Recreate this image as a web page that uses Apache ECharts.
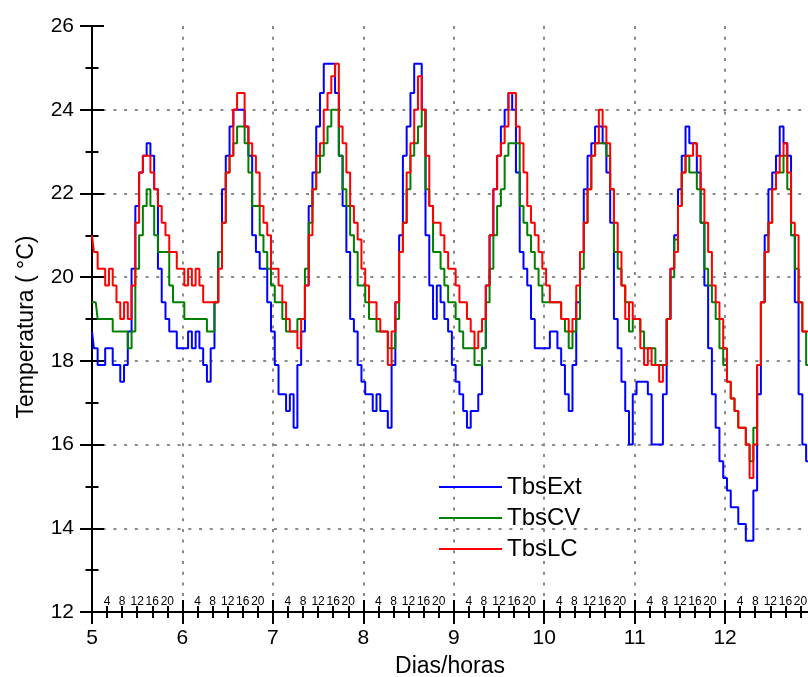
<!DOCTYPE html>
<html><head><meta charset="utf-8">
<script src="https://cdn.jsdelivr.net/npm/echarts@6/dist/echarts.min.js"></script>
<style>html,body{margin:0;padding:0;background:#fff;overflow:hidden}#c{width:808px;height:677px}</style>
</head><body><div id="c"></div>
<script>
// Hourly readings starting at day 5, 00h
const startDay = 5;
const dayTicks = [5, 6, 7, 8, 9, 10, 11, 12];
const hourTicks = [4, 8, 12, 16, 20];
const yTicks = [12, 14, 16, 18, 20, 22, 24, 26];
const seriesNames = ['TbsExt', 'TbsCV', 'TbsLC'];

const tbsExt = [
  18.7,18.3,17.9,17.9,18.3,18.3,17.9,17.9,17.5,17.9,18.7,20.2,21.7,22.5,22.9,23.2,22.9,22.1,20.2,19.4,19.0,18.7,18.7,18.3,
  18.3,18.3,18.7,18.3,18.7,18.3,17.9,17.5,18.3,19.4,20.6,22.1,22.9,23.6,24.0,24.0,24.0,23.6,22.9,21.0,20.6,20.2,20.2,19.4,
  18.7,17.9,17.2,17.2,16.8,17.2,16.4,17.9,18.7,19.8,21.7,22.5,23.6,24.4,25.1,25.1,25.1,24.4,22.9,21.7,20.6,19.0,18.7,17.9,
  17.5,17.2,17.2,16.8,17.2,16.8,16.8,16.4,17.9,19.4,21.0,22.9,23.6,24.4,25.1,25.1,24.0,21.0,19.8,19.0,19.8,19.4,19.0,18.7,
  17.9,17.5,17.2,16.8,16.4,16.8,16.8,17.2,18.3,19.8,21.0,22.1,22.9,23.6,24.0,24.4,24.0,22.5,20.6,20.2,19.8,19.0,18.3,18.3,
  18.3,18.3,18.7,18.7,18.3,17.9,17.2,16.8,17.9,19.4,20.6,22.1,22.9,23.2,23.6,23.6,23.2,22.5,21.3,19.0,18.3,17.5,16.8,16.0,
  17.2,17.5,17.5,17.5,17.2,16.0,16.0,16.0,17.2,19.0,20.2,21.0,22.1,22.9,23.6,23.2,23.2,22.5,21.3,19.8,18.3,17.2,16.4,15.6,
  15.2,14.9,14.5,14.5,14.1,14.1,13.7,13.7,14.9,17.2,19.4,21.0,22.1,22.5,22.9,23.6,23.2,22.9,21.0,19.4,17.2,16.0,15.6
];
const tbsCV = [
  19.4,19.4,19.0,19.0,19.0,19.0,18.7,18.7,18.7,18.7,18.3,18.7,20.2,21.0,21.7,22.1,21.7,21.0,20.6,20.6,20.6,19.8,19.4,19.4,
  19.4,19.0,19.0,19.0,19.0,19.0,19.0,18.7,18.7,19.4,20.6,21.3,22.5,22.9,23.2,23.6,23.6,23.2,22.5,21.7,21.7,21.0,20.6,20.2,
  19.8,19.4,19.4,19.0,18.7,18.7,18.7,19.0,19.0,20.2,21.3,22.1,22.5,22.9,23.2,23.6,24.0,24.0,22.9,22.1,21.7,21.0,20.6,19.8,
  19.8,19.4,19.0,19.0,18.7,18.7,18.7,18.3,18.3,19.0,20.6,21.3,22.1,22.9,23.2,23.6,24.0,22.1,21.7,20.6,20.6,20.2,19.8,19.4,
  19.4,19.0,18.7,18.3,18.3,18.3,17.9,17.9,18.3,19.4,20.2,21.0,21.7,22.1,22.9,23.2,23.2,23.2,21.7,21.3,21.0,20.6,20.2,19.8,
  19.4,19.4,19.4,19.4,19.4,19.0,18.7,18.3,18.7,19.0,20.2,21.3,22.1,22.9,23.2,23.2,23.2,22.9,22.1,20.6,20.2,19.8,19.4,18.7,
  19.0,19.0,18.7,18.3,18.3,18.3,17.9,17.9,17.9,19.0,20.0,20.9,21.7,22.5,22.9,22.5,22.5,22.1,21.3,20.2,19.8,19.4,19.0,18.3,
  17.9,17.5,17.1,16.8,16.4,16.4,16.0,15.6,16.4,17.9,19.4,20.6,21.3,22.1,22.5,22.5,22.9,22.1,21.0,20.2,19.4,18.7,17.9
];
const tbsLC = [
  21.0,20.6,20.2,20.2,19.8,20.2,19.8,19.4,19.0,19.4,19.0,19.8,21.3,22.5,22.9,22.9,22.5,22.1,21.7,21.3,21.0,20.6,20.6,20.2,
  20.2,19.8,20.2,19.8,20.2,19.8,19.4,19.4,19.4,19.4,20.2,21.3,22.5,22.9,24.0,24.4,24.4,23.6,23.2,22.9,22.5,21.7,21.3,21.0,
  20.2,20.2,19.8,19.4,19.0,18.7,18.7,18.3,19.0,19.8,21.0,22.1,22.9,23.2,24.0,24.4,24.8,25.1,23.6,23.2,22.5,21.7,21.3,20.9,
  20.2,19.8,19.4,19.4,19.0,18.7,18.7,17.9,18.7,19.4,20.6,21.3,22.5,23.2,24.0,24.8,24.0,22.9,21.7,21.3,21.3,21.0,20.6,20.2,
  20.2,19.8,19.4,19.4,19.0,18.7,18.3,18.7,19.0,19.8,21.0,22.1,22.9,23.2,23.6,24.4,24.4,23.6,23.2,22.5,21.7,21.3,21.0,20.6,
  20.2,19.8,19.4,19.4,19.4,19.0,19.0,18.7,19.0,19.8,20.6,21.3,22.1,22.9,23.2,24.0,23.6,23.2,22.1,21.3,20.6,19.8,19.0,19.4,
  19.0,19.0,18.3,17.9,18.3,17.9,17.9,17.5,17.9,19.0,20.2,20.6,21.7,22.5,22.9,22.9,23.2,22.9,22.1,21.3,20.6,19.8,19.4,19.0,
  18.3,17.5,17.1,16.8,16.4,16.4,16.0,15.2,16.0,17.9,19.4,20.6,21.3,22.1,22.5,22.9,23.2,22.5,21.3,21.0,19.4,18.7,18.7
];

const FONT = '"Liberation Sans", Arial, Helvetica, sans-serif';
const chart = echarts.init(document.getElementById('c'), null, {renderer: 'canvas'});
const toPts = arr => arr.map((v, i) => [i, v]);
const hourMax = (dayTicks.length) * 24;
const grid = {left: 92, right: -7.54, top: 26, bottom: 65, outerBoundsMode: 'none', containLabel: false};
const dotted = {color: '#8a8a8a', width: 2, type: [3, 7.7]};

const baseX = {
  type: 'value', gridIndex: 0, position: 'bottom', min: 0, max: hourMax, interval: 24,
  axisLine: {show: true, onZero: false, lineStyle: {color: '#000', width: 2}},
  splitLine: {show: false}, axisLabel: {show: false}
};
const baseY = {
  type: 'value', gridIndex: 0, position: 'left', min: yTicks[0], max: yTicks[yTicks.length - 1], interval: 2,
  axisLine: {show: true, onZero: false, lineStyle: {color: '#000', width: 2}},
  splitLine: {show: false}, axisLabel: {show: false}
};

chart.setOption({
  animation: false,
  backgroundColor: '#fff',
  grid: grid,
  xAxis: [
    Object.assign({}, baseX, {
      axisTick: {show: true, inside: false, length: 12, lineStyle: {color: '#000', width: 2}},
      minorTick: {show: true, splitNumber: 6, length: 6, lineStyle: {color: '#000', width: 2}},
      axisLabel: {
        show: true, showMaxLabel: false, margin: 16, fontSize: 21, color: '#000', fontFamily: FONT,
        formatter: v => (v % 24 === 0 && dayTicks.includes(startDay + v / 24)) ? String(startDay + v / 24) : ''
      },
      splitLine: {show: true, showMinLine: false, showMaxLine: false, lineStyle: dotted}
    }),
    Object.assign({}, baseX, {
      axisTick: {show: true, inside: true, length: 12, lineStyle: {color: '#000', width: 2}},
      minorTick: {show: true, splitNumber: 6, length: 6, lineStyle: {color: '#000', width: 2}}
    }),
    Object.assign({}, baseX, {
      interval: 4,
      axisLine: {show: false},
      axisTick: {show: false},
      axisLabel: {
        show: true, inside: true, margin: 4, fontSize: 12, color: '#000', fontFamily: FONT,
        showMinLabel: false, showMaxLabel: false,
        formatter: v => hourTicks.includes(v % 24) ? String(v % 24) : ''
      }
    })
  ],
  yAxis: [
    Object.assign({}, baseY, {
      axisTick: {show: true, inside: false, length: 12, lineStyle: {color: '#000', width: 2}},
      minorTick: {show: true, splitNumber: 2, length: 6.5, lineStyle: {color: '#000', width: 2}},
      axisLabel: {show: true, margin: 18, fontSize: 21, color: '#000', fontFamily: FONT,
        formatter: v => yTicks.includes(v) ? String(v) : ''},
      splitLine: {show: true, showMinLine: false, showMaxLine: false, lineStyle: dotted}
    }),
    Object.assign({}, baseY, {
      axisTick: {show: true, inside: true, length: 12, lineStyle: {color: '#000', width: 2}},
      minorTick: {show: true, splitNumber: 2, length: 6.5, lineStyle: {color: '#000', width: 2}}
    })
  ],
  legend: {
    orient: 'vertical', left: 439, top: 475, padding: 0, itemWidth: 63, itemHeight: 2, itemGap: 7,
    icon: 'rect',
    data: seriesNames,
    textStyle: {fontSize: 24, color: '#000', fontFamily: FONT, lineHeight: 24},
    selectedMode: false
  },
  graphic: [
    {type: 'text', x: 27, y: 327, rotation: Math.PI / 2,
     style: {text: 'Temperatura ( °C)', font: '23px ' + FONT, fill: '#000', align: 'center', verticalAlign: 'middle'}},
    {type: 'text', x: 450, y: 667,
     style: {text: 'Dias/horas', font: '23px ' + FONT, fill: '#000', align: 'center', verticalAlign: 'middle'}}
  ],
  series: [
    {name: seriesNames[0], type: 'line', step: 'middle', symbol: 'none', data: toPts(tbsExt),
     xAxisIndex: 0, yAxisIndex: 0, color: '#0000ff', lineStyle: {color: '#0000ff', width: 2}, z: 2},
    {name: seriesNames[1], type: 'line', step: 'middle', symbol: 'none', data: toPts(tbsCV),
     xAxisIndex: 0, yAxisIndex: 0, color: '#008000', lineStyle: {color: '#008000', width: 2}, z: 3},
    {name: seriesNames[2], type: 'line', step: 'middle', symbol: 'none', data: toPts(tbsLC),
     xAxisIndex: 0, yAxisIndex: 0, color: '#ff0000', lineStyle: {color: '#ff0000', width: 2}, z: 4}
  ]
});
</script>
</body></html>
